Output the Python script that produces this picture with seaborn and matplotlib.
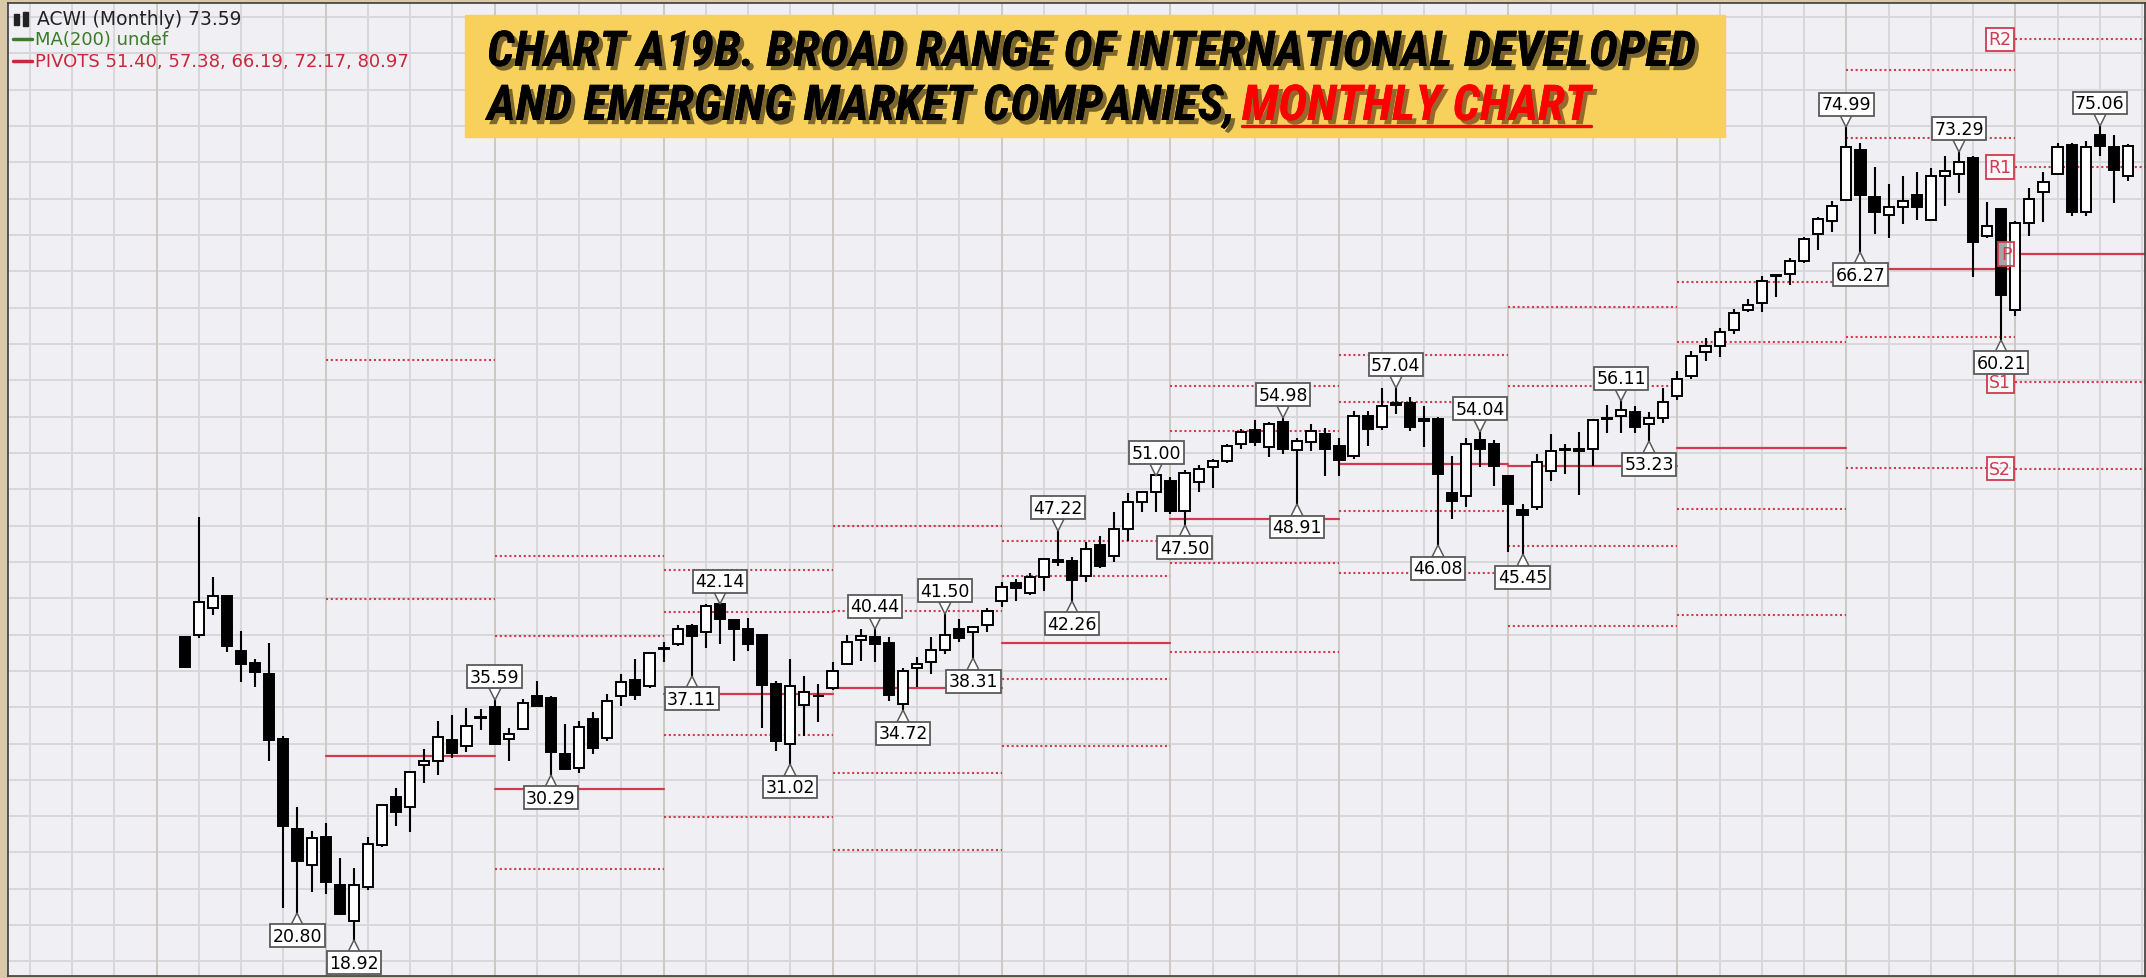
import numpy as np
import pandas as pd
import matplotlib
matplotlib.use("Agg")
import matplotlib.pyplot as plt
import seaborn as sns
from matplotlib.transforms import offset_copy
from matplotlib.patches import Rectangle
from matplotlib.lines import Line2D
import matplotlib.patheffects as pe

# ---------------- data (monthly ACWI candles, Mar 2008 - Sep 2019) ----------------
start_month = "2008-03"
opens = [39.80, 39.96, 41.80, 42.66, 38.84, 38.01, 37.28, 32.80, 26.61, 24.13,
         26.04, 22.75, 20.30, 22.60, 25.51, 28.79, 28.10, 31.03, 31.31, 32.75,
         32.34, 34.25, 35.02, 32.80, 33.49, 35.74, 35.60, 31.77, 30.79, 34.18,
         32.85, 35.74, 36.86, 36.43, 39.00, 39.34, 40.56, 40.15, 42.10, 40.99,
         40.37, 39.96, 36.59, 32.46, 35.14, 35.74, 36.29, 37.96, 39.64, 39.80,
         39.39, 35.21, 37.69, 38.12, 38.95, 40.37, 40.15, 40.65, 42.32, 43.52,
         42.85, 43.93, 45.02, 45.07, 44.04, 46.15, 45.42, 47.25, 49.09, 49.82,
         50.54, 48.51, 50.51, 51.50, 51.96, 53.10, 54.07, 52.88, 54.64, 52.71,
         53.22, 53.79, 52.95, 52.30, 55.05, 54.25, 55.80, 55.91, 54.72, 54.82,
         49.71, 49.55, 53.40, 53.10, 50.92, 48.58, 48.75, 51.27, 52.70, 52.62,
         52.76, 54.82, 55.01, 55.29, 54.48, 54.87, 56.43, 57.76, 59.42, 59.83,
         60.97, 62.35, 62.81, 64.65, 64.80, 65.72, 67.56, 68.47, 69.92, 73.36,
         70.08, 68.86, 69.40, 70.24, 68.54, 71.57, 71.69, 72.77, 67.44, 69.28,
         62.35, 68.32, 70.43, 71.69, 73.68, 69.09, 74.37, 73.53, 71.57]
highs = [39.85, 48.06, 43.93, 42.75, 40.26, 38.31, 39.41, 33.03, 28.10, 26.45,
         27.02, 24.59, 23.90, 26.04, 28.30, 29.41, 30.60, 32.11, 34.06, 34.47,
         34.92, 34.87, 35.59, 33.60, 35.55, 36.77, 35.80, 33.83, 34.06, 34.64,
         35.90, 37.28, 38.31, 38.80, 39.46, 40.65, 40.70, 42.10, 42.14, 40.99,
         41.11, 39.96, 36.80, 38.31, 37.16, 36.59, 38.12, 39.96, 40.37, 40.44,
         39.80, 37.70, 38.42, 39.84, 41.50, 41.10, 40.60, 41.80, 43.59, 43.81,
         44.23, 45.19, 47.22, 45.31, 46.38, 46.75, 48.45, 49.73, 49.90, 51.00,
         50.85, 51.30, 51.66, 52.07, 53.10, 54.14, 54.78, 54.60, 54.98, 53.50,
         54.48, 54.19, 53.50, 55.40, 55.40, 56.94, 57.04, 56.32, 55.74, 55.00,
         52.26, 53.50, 54.04, 53.40, 51.00, 48.97, 52.42, 53.79, 53.10, 53.91,
         54.78, 55.79, 56.11, 55.70, 55.29, 56.94, 58.15, 59.53, 60.38, 61.10,
         62.40, 63.08, 64.65, 64.80, 65.89, 67.33, 68.71, 69.85, 74.99, 73.82,
         72.15, 71.00, 71.57, 71.85, 72.08, 72.95, 73.29, 72.90, 69.74, 69.30,
         68.47, 70.70, 71.85, 73.80, 73.80, 73.98, 75.06, 74.37, 73.75]
lows = [37.70, 39.73, 41.34, 38.77, 36.70, 36.36, 31.31, 21.15, 20.80, 22.25,
        22.13, 20.70, 18.92, 22.43, 25.40, 26.79, 26.38, 29.77, 30.32, 31.47,
        31.89, 33.44, 32.40, 31.31, 33.40, 35.00, 30.29, 30.65, 30.45, 31.77,
        32.70, 35.09, 35.51, 36.35, 38.08, 39.20, 37.11, 39.04, 39.34, 38.19,
        38.88, 33.54, 31.99, 31.02, 33.03, 33.95, 36.20, 37.90, 38.19, 38.08,
        35.44, 34.72, 36.36, 37.28, 38.65, 39.50, 38.31, 40.20, 41.87, 42.32,
        42.70, 43.01, 44.73, 42.26, 43.59, 44.60, 44.96, 46.45, 48.40, 48.40,
        48.29, 47.50, 49.78, 50.05, 51.80, 52.76, 53.00, 52.19, 52.42, 48.91,
        52.64, 50.92, 50.92, 52.07, 52.99, 54.10, 55.17, 54.02, 52.88, 46.08,
        47.94, 48.75, 51.50, 50.23, 45.70, 45.45, 48.60, 50.58, 51.04, 49.59,
        51.61, 53.86, 53.86, 53.86, 53.23, 54.55, 56.15, 57.58, 58.84, 59.07,
        60.67, 62.17, 62.17, 63.20, 64.05, 65.60, 66.48, 67.72, 69.85, 66.27,
        67.56, 67.26, 68.24, 68.54, 68.50, 69.51, 70.38, 64.58, 67.30, 60.21,
        61.93, 67.40, 68.40, 71.60, 68.82, 68.82, 72.95, 69.69, 71.22]
closes = [37.74, 42.21, 42.62, 39.22, 37.96, 37.39, 32.75, 26.83, 24.43, 25.97,
          22.98, 20.76, 22.75, 25.58, 28.26, 27.80, 30.51, 31.31, 32.92, 31.84,
          33.72, 34.35, 32.46, 33.15, 35.28, 35.09, 31.89, 30.74, 33.61, 32.16,
          35.44, 36.70, 35.83, 38.72, 39.08, 40.37, 39.91, 41.93, 41.06, 40.37,
          39.34, 36.52, 32.68, 36.43, 36.02, 35.80, 37.50, 39.50, 39.91, 39.34,
          35.83, 37.50, 37.96, 38.95, 39.96, 39.73, 40.49, 41.63, 43.24, 43.17,
          43.93, 45.19, 45.12, 43.74, 45.88, 44.73, 47.25, 49.09, 49.82, 50.97,
          48.51, 51.11, 51.38, 51.96, 52.95, 53.91, 53.22, 54.48, 52.76, 53.33,
          54.02, 52.76, 52.02, 55.05, 54.14, 55.74, 55.90, 54.25, 54.80, 51.04,
          49.20, 53.10, 52.76, 51.61, 48.97, 48.24, 51.89, 52.64, 52.80, 52.75,
          54.78, 54.90, 55.47, 54.25, 54.87, 56.02, 57.58, 59.14, 59.83, 60.83,
          62.12, 62.67, 64.34, 64.72, 65.72, 67.21, 68.59, 69.51, 73.53, 70.24,
          69.09, 69.40, 69.85, 69.40, 71.53, 71.91, 72.49, 66.99, 68.13, 63.37,
          68.32, 69.97, 71.12, 73.53, 69.05, 73.53, 73.63, 71.98, 73.59]

swing_high_idx = [22, 38, 49, 54, 62, 69, 78, 86, 92, 102, 118, 126, 136]
swing_low_idx = [8, 12, 26, 36, 43, 51, 56, 63, 71, 79, 89, 95, 104, 119, 129]

title_line1 = "CHART A19B. BROAD RANGE OF INTERNATIONAL DEVELOPED"
title_line2a = "AND EMERGING MARKET COMPANIES,"
title_line2b = "MONTHLY CHART"
legend_texts = ["ACWI (Monthly) 73.59", "MA(200) undef",
                "PIVOTS 51.40, 57.38, 66.19, 72.17, 80.97"]
pivot_names = ["R2", "R1", "P", "S1", "S2"]

# ---------------- figure / axes ----------------
W, H = 2146, 979
sns.set_theme(style="white")
plt.rcParams["font.family"] = ["DejaVu Sans"]

fig = plt.figure(figsize=(W / 100, H / 100), dpi=100, facecolor="#d9c9a9")


def px_rect(l, t, r, b):
    return [l / W, 1 - b / H, (r - l) / W, (b - t) / H]


ax = fig.add_axes(px_rect(8, 4, 2145, 977))
ax.set_facecolor("#f0f0f4")
XMIN, XMAX, YMIN, YMAX = -12.56, 139.21, 16.50, 83.46

df = pd.DataFrame({"date": pd.date_range(start_month, periods=len(closes), freq="MS"),
                   "o": opens, "h": highs, "l": lows, "c": closes})
df["x"] = np.arange(len(df))
df["year"] = df["date"].dt.year

# grid: horizontal every 2.5, vertical each quarter (January slightly darker)
for v in np.arange(17.5, 83.4, 2.5):
    ax.axhline(v, color="#d8d8db", lw=1.4, zorder=0)
jan_x = -2  # Jan 2008 position relative to first candle (Mar 2008)
for m in range(-11, 141, 3):
    ax.axvline(m, color="#cdc9c2" if (m - jan_x) % 12 == 0 else "#d8d8db", lw=1.4, zorder=0)

# ---------------- yearly pivot levels (from previous year's H/L/C) ----------------
yearly = df.groupby("year").agg(h=("h", "max"), l=("l", "min"), c=("c", "last"), x0=("x", "first"))
years = list(yearly.index)
rows = []
last_levels = {}
for i, yr in enumerate(years[:-1]):
    nxt = years[i + 1]
    hh, ll, cc = yearly.loc[yr, ["h", "l", "c"]]
    p = (hh + ll + cc) / 3
    lv = {"R2": p + (hh - ll), "R1": 2 * p - ll, "P": p, "S1": 2 * p - hh, "S2": p - (hh - ll)}
    x0 = yearly.loc[nxt, "x0"]
    x1 = yearly.loc[years[i + 2], "x0"] if i + 2 < len(years) else XMAX
    for k, v in lv.items():
        rows.append(dict(seg=f"{nxt}-{k}", kind=k, x=x0, v=v))
        rows.append(dict(seg=f"{nxt}-{k}", kind=k, x=x1, v=v))
    last_levels = lv
    last_x0 = x0
piv = pd.DataFrame(rows)

pivot_red = "#d23a4e"
sns.lineplot(data=piv[piv["kind"] == "P"], x="x", y="v", units="seg", estimator=None,
             color=pivot_red, lw=1.6, ax=ax, legend=False, zorder=2)
sns.lineplot(data=piv[piv["kind"] != "P"], x="x", y="v", units="seg", estimator=None,
             color=pivot_red, lw=1.5, linestyle=(0, (1, 1.3)), ax=ax, legend=False, zorder=2)

# ---------------- candles ----------------
o = df["o"].to_numpy(); c = df["c"].to_numpy()
hi = df["h"].to_numpy(); lo = df["l"].to_numpy(); xs = df["x"].to_numpy()
up = c >= o
ax.vlines(xs, lo, hi, color="black", lw=1.5, zorder=3)
body_bottom = np.minimum(o, c)
body_h = np.maximum(np.abs(c - o), 0.05)
ax.bar(xs, body_h, bottom=body_bottom, width=0.72,
       color=np.where(up, "white", "black"), edgecolor="black", linewidth=1.4, zorder=4)

# ---------------- pivot tags for the current year ----------------
for name in pivot_names:
    ax.annotate(name, xy=(last_x0, last_levels[name]), xytext=(-4, 0), textcoords="offset pixels",
                ha="right", va="center", fontsize=12.5, color=pivot_red, zorder=6,
                bbox=dict(boxstyle="square,pad=0.15", fc=(1, 1, 1, 0.65), ec=pivot_red, lw=1.3))

# ---------------- swing high / low labels ----------------
def price_label(m, v, above):
    s = 1 if above else -1
    tri = offset_copy(ax.transData, fig=fig, x=0, y=s * 5, units="dots")
    ax.plot([m], [v], marker="v" if above else "^", ms=8, mfc="white", mec="#5a5a5a",
            mew=1.1, transform=tri, zorder=8, clip_on=False)
    ax.annotate(f"{v:.2f}", xy=(m, v), xytext=(0, s * 22), textcoords="offset pixels",
                ha="center", va="center", fontsize=12.5, color="black", zorder=9,
                bbox=dict(boxstyle="square,pad=0.14", fc="white", ec="#5a5a5a", lw=1.3))


for m in swing_high_idx:
    price_label(m, highs[m], True)
for m in swing_low_idx:
    price_label(m, lows[m], False)

ax.set_xlim(XMIN, XMAX)
ax.set_ylim(YMIN, YMAX)
ax.set_xticks([]); ax.set_yticks([])
ax.set_xlabel(""); ax.set_ylabel("")
for sp in ax.spines.values():
    sp.set_color("#3c3c3c"); sp.set_linewidth(1.2)

# ---------------- legend text (top-left) ----------------
fig.add_artist(Rectangle((14 / W, 1 - 26 / H), 5 / W, 11 / H, transform=fig.transFigure,
                         color="#222", zorder=6))
fig.add_artist(Rectangle((23 / W, 1 - 27 / H), 5 / W, 14 / H, transform=fig.transFigure,
                         color="#222", zorder=6))
fig.text(37 / W, 1 - 19.5 / H, legend_texts[0], fontsize=13.5, color="#222", va="center", zorder=7)
fig.add_artist(Line2D([13 / W, 32 / W], [1 - 40 / H] * 2, color="#3c7a2c", lw=2.5, zorder=6))
fig.text(35 / W, 1 - 40 / H, legend_texts[1], fontsize=13, color="#3c7a2c", va="center", zorder=7)
fig.add_artist(Line2D([13 / W, 32 / W], [1 - 62 / H] * 2, color="#c8283c", lw=2.5, zorder=6))
fig.text(35 / W, 1 - 62 / H, legend_texts[2], fontsize=13, color="#c8283c", va="center", zorder=7)

# ---------------- title banner ----------------
fig.add_artist(Rectangle((465 / W, 1 - 138 / H), (1725 - 465) / W, (138 - 16) / H,
                         transform=fig.transFigure, color="#f8d05c", zorder=5))
tkw = dict(family=["DejaVu Serif Condensed", "Noto Serif Condensed", "Noto Sans Condensed",
                   "Roboto Condensed", "Open Sans Condensed", "DejaVu Serif"],
           fontweight="bold", fontstyle="italic", fontstretch="condensed",
           va="baseline", ha="left", zorder=7)
shadow_k = [pe.withSimplePatchShadow(offset=(3, -3), shadow_rgbFace="black", alpha=0.5), pe.Normal()]
shadow_r = [pe.withSimplePatchShadow(offset=(3, -3), shadow_rgbFace="#3a0000", alpha=0.5), pe.Normal()]
renderer = fig.canvas.get_renderer()
t1 = fig.text(487 / W, 1 - 67 / H, title_line1, fontsize=30, color="black", path_effects=shadow_k, **tkw)
w1 = t1.get_window_extent(renderer).width
fs = 30 * 1208 / w1
t1.set_fontsize(fs)
t2 = fig.text(487 / W, 1 - 121 / H, title_line2a, fontsize=fs, color="black", path_effects=shadow_k, **tkw)
bb2 = t2.get_window_extent(renderer)
xr = bb2.x1 + 0.12 * fs * 100 / 72
t3 = fig.text(xr / W, 1 - 121 / H, title_line2b, fontsize=fs, color="#ff0000", path_effects=shadow_r, **tkw)
bb3 = t3.get_window_extent(renderer)
fig.add_artist(Line2D([bb3.x0 / W, bb3.x1 / W], [1 - 126.5 / H] * 2, color="#ff0000", lw=2.4, zorder=7))

fig.savefig("out.png", dpi=100, facecolor=fig.get_facecolor())
